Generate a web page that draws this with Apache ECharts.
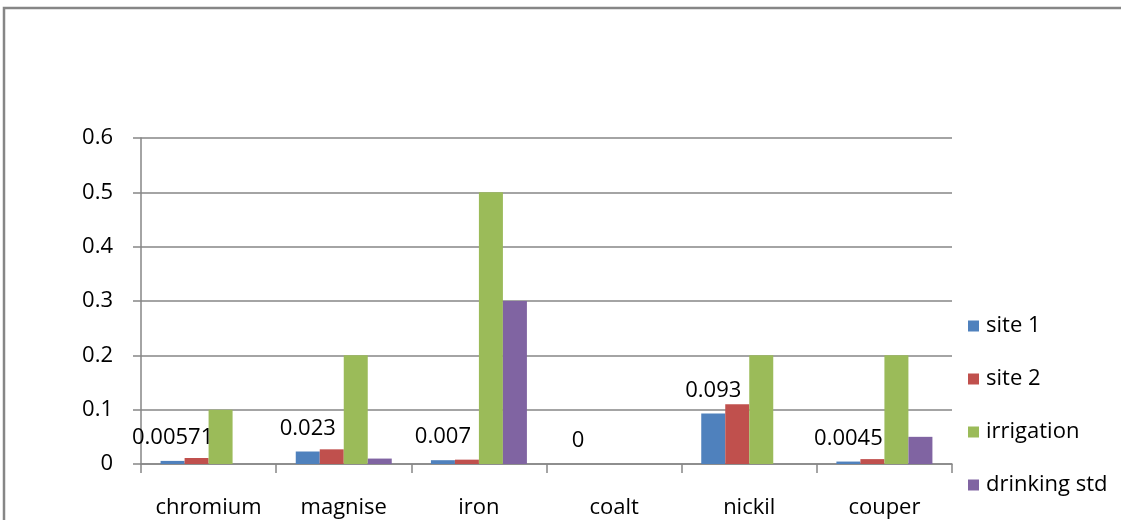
<!DOCTYPE html>
<html>
<head>
<meta charset="utf-8">
<script src="https://cdn.jsdelivr.net/npm/echarts@6/dist/echarts.min.js"></script>
<style>
  html, body { margin: 0; padding: 0; background: #fff; }
  #chart { width: 1121px; height: 520px; }
</style>
</head>
<body>
<div id="chart"></div>
<script>
// Metal concentrations per site against irrigation and drinking standards
const categories = ['chromium', 'magnise', 'iron', 'coalt', 'nickil', 'couper'];
const site1 = [0.00571, 0.023, 0.007, 0, 0.093, 0.0045];
const site2 = [0.011, 0.027, 0.008, 0, 0.11, 0.009];
const irrigation = [0.1, 0.2, 0.5, 0, 0.2, 0.2];
const drinkingStd = [0, 0.01, 0.3, 0, 0, 0.05];
const yTicks = { min: 0, max: 0.6, step: 0.1 };

const FONT = 'Open Sans';
const FS = 22;
const GRAY = '#868686';

const chart = echarts.init(document.getElementById('chart'));

function barSeries(name, data, color, withLabel) {
  return {
    name: name,
    type: 'bar',
    data: data,
    barWidth: 24,
    barGap: '0%',
    itemStyle: { color: color },
    label: withLabel ? {
      show: true,
      position: 'top',
      distance: 12,
      color: '#000',
      fontFamily: FONT,
      fontSize: FS
    } : { show: false }
  };
}

chart.setOption({
  animation: false,
  graphic: [{
    type: 'rect',
    shape: { x: 4, y: 8, width: 1200, height: 600 },
    style: { fill: 'none', stroke: GRAY, lineWidth: 2.5 },
    silent: true
  }],
  grid: { left: 141, right: 169, top: 138, bottom: 56, containLabel: false },
  legend: {
    orient: 'vertical',
    left: 963,
    top: 310,
    itemWidth: 11,
    itemHeight: 11,
    itemGap: 31,
    icon: 'rect',
    textStyle: { fontFamily: FONT, fontSize: FS, color: '#000', padding: [0, 0, 0, 2] },
    data: ['site 1', 'site 2', 'irrigation', 'drinking std']
  },
  xAxis: {
    type: 'category',
    data: categories,
    axisLine: { lineStyle: { color: GRAY, width: 1.5 } },
    axisTick: { show: true, interval: 0, length: 9, alignWithLabel: false, lineStyle: { color: GRAY, width: 1.5 } },
    axisLabel: { interval: 0, fontFamily: FONT, fontSize: FS, color: '#000', margin: 33 }
  },
  yAxis: {
    type: 'value',
    min: yTicks.min,
    max: yTicks.max,
    interval: yTicks.step,
    axisLine: { show: true, lineStyle: { color: GRAY, width: 1.5 } },
    axisTick: { show: true, length: 8, lineStyle: { color: GRAY, width: 1.5 } },
    splitLine: { lineStyle: { color: GRAY, width: 1.5 } },
    axisLabel: { fontFamily: FONT, fontSize: FS, color: '#000', margin: 28 }
  },
  series: [
    barSeries('site 1', site1, '#4F81BD', true),
    barSeries('site 2', site2, '#C0504D', false),
    barSeries('irrigation', irrigation, '#9BBB59', false),
    barSeries('drinking std', drinkingStd, '#8064A2', false)
  ]
});
</script>
</body>
</html>
